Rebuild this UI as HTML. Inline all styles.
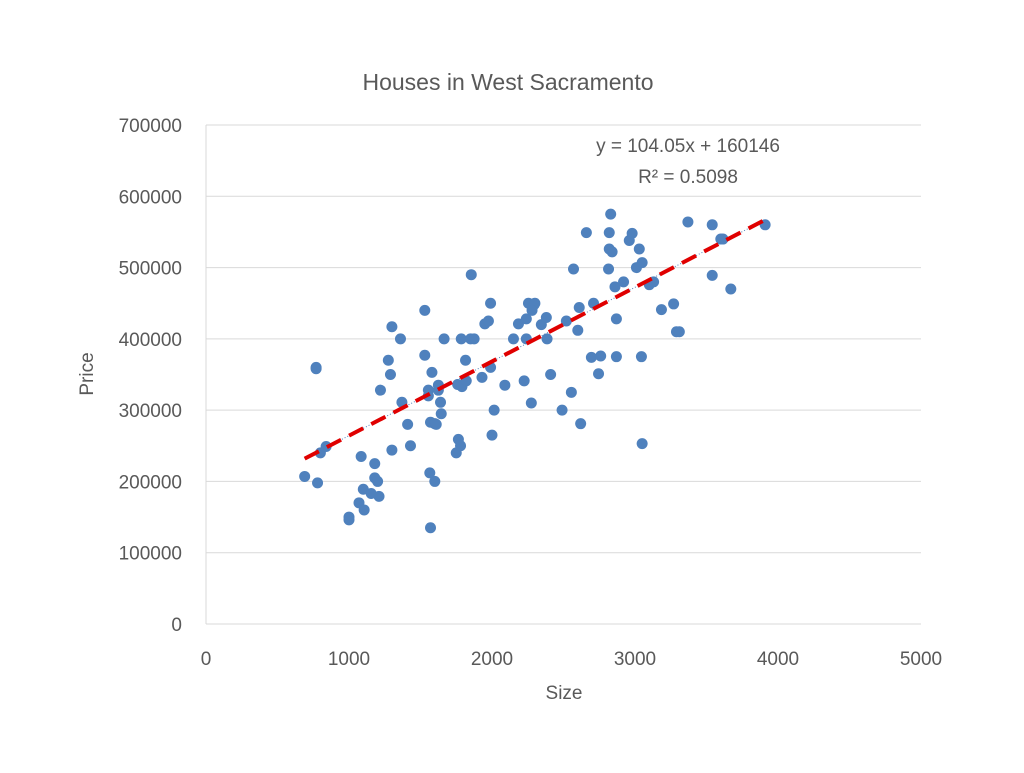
<!DOCTYPE html>
<html><head><meta charset="utf-8"><style>
body{margin:0;background:#fff;font-family:"Liberation Sans",sans-serif;}
svg text{font-family:"Liberation Sans",sans-serif;fill:#595959;}
</style></head><body>
<svg id="chart" width="1024" height="768" xmlns="http://www.w3.org/2000/svg">
<text x="508" y="90" text-anchor="middle" font-size="23">Houses in West Sacramento</text>
<g id="grid"></g><g id="ticks"></g><g id="pts"></g><g id="trend"></g>
<text x="688" y="152" text-anchor="middle" font-size="19">y = 104.05x + 160146</text>
<text x="688" y="183" text-anchor="middle" font-size="19">R² = 0.5098</text>
<text x="564" y="699" text-anchor="middle" font-size="19">Size</text>
<text transform="translate(93,374) rotate(-90)" text-anchor="middle" font-size="19">Price</text>
</svg>
<script>
const xTicks=[0,1000,2000,3000,4000,5000];
const yTicks=[0,100000,200000,300000,400000,500000,600000,700000];
const sizes=[690,780,770,770,800,840,1000,1000,1070,1085,1100,1106,1155,1180,1180,1210,1220,1200,1275,1290,1300,1300,1360,1370,1410,1430,1530,1530,1555,1555,1570,1570,1580,1600,1610,1625,1600,1565,1640,1645,1625,1665,1750,1760,1765,1780,1785,1790,1815,1820,1850,1875,1855,1930,1950,1975,1990,1990,2000,2015,2090,2150,2185,2225,2240,2240,2255,2275,2295,2300,2280,2345,2380,2385,2410,2490,2520,2555,2570,2600,2610,2620,2660,2695,2710,2745,2760,2815,2820,2830,2820,2840,2860,2870,2870,2920,2960,2980,3010,3030,3050,3045,3050,3100,3130,3185,3270,3290,3310,3370,3540,3540,3600,3615,3670,3910];
const prices=[207000,198000,360000,358000,240000,249000,146000,150000,170000,235000,189000,160000,183000,225000,205000,179000,328000,200000,370000,350000,417000,244000,400000,311000,280000,250000,377000,440000,320000,328000,283000,135000,353000,281000,280000,328000,200000,212000,311000,295000,335000,400000,240000,336000,259000,250000,400000,333000,370000,341000,400000,400000,490000,346000,421000,425000,450000,360000,265000,300000,335000,400000,421000,341000,428000,400000,450000,310000,448000,450000,440000,420000,430000,400000,350000,300000,425000,325000,498000,412000,444000,281000,549000,374000,450000,351000,376000,498000,549000,575000,526000,522000,473000,428000,375000,480000,538000,548000,500000,526000,507000,375000,253000,476000,480000,441000,449000,410000,410000,564000,560000,489000,540000,540000,470000,560000];
const slope=104.05, intercept=160146;
const NS="http://www.w3.org/2000/svg";
const X=v=>206+v*(921-206)/5000, Y=v=>624-v*(624-125)/700000;
function mk(t,a,p){const e=document.createElementNS(NS,t);for(const k in a)e.setAttribute(k,a[k]);document.getElementById(p).appendChild(e);return e;}
yTicks.forEach(t=>{
 const l=mk('line',{x1:206,x2:921,y1:Y(t),y2:Y(t),stroke:'#d9d9d9','stroke-width':1},'grid');
 
 
 const tx=mk('text',{x:182,y:Y(t)+7,'text-anchor':'end','font-size':19},'ticks');tx.textContent=t;
 
 
});
const ax=mk('line',{x1:206,x2:206,y1:125,y2:624,stroke:'#d9d9d9'},'grid');


xTicks.forEach(t=>{
 const tx=mk('text',{x:X(t),y:665,'text-anchor':'middle','font-size':19},'ticks');tx.textContent=t;
 
 
});
sizes.forEach((s,i)=>{
 const c=mk('circle',{cx:X(s),cy:Y(prices[i]),r:5.5,fill:'#4f81bd'},'pts');
 
 
});
const x0=Math.min(...sizes),x1=Math.max(...sizes);
const d=mk('line',{x1:X(x0),y1:Y(slope*x0+intercept),x2:X(x1),y2:Y(slope*x1+intercept),stroke:'#4f81bd','stroke-width':1,'stroke-dasharray':'1 2'},'trend');


const r=mk('line',{x1:X(x0),y1:Y(slope*x0+intercept),x2:X(x1),y2:Y(slope*x1+intercept),stroke:'#e00000','stroke-width':4,'stroke-dasharray':'16 9'},'trend');


</script>
</body></html>
